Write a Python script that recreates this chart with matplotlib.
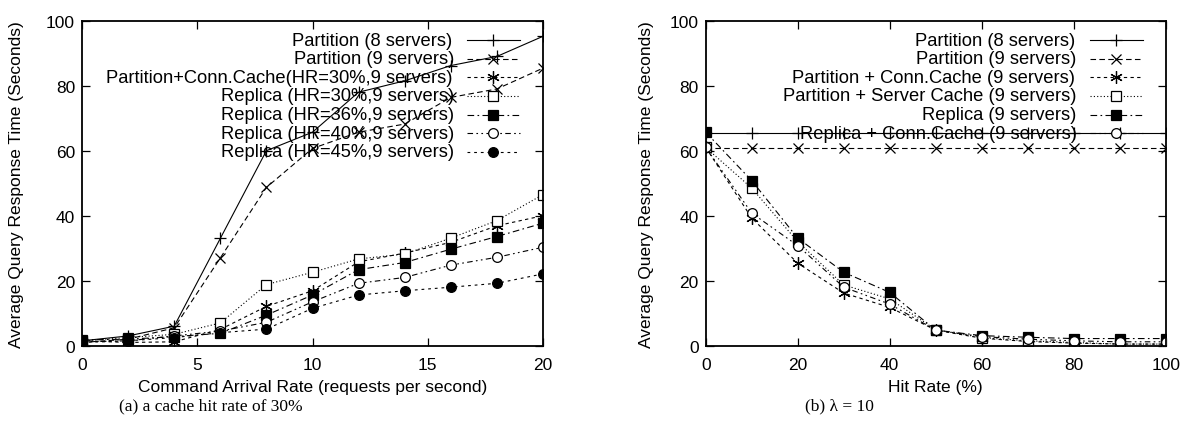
import matplotlib
matplotlib.use("Agg")
import matplotlib.pyplot as plt

plt.rcParams['font.family'] = ['Liberation Sans', 'DejaVu Sans']

# ---- data: left panel (a) ----
rate = [0, 2, 4, 6, 8, 10, 12, 14, 16, 18, 20]
a_part8 = [1.5, 3, 6, 33, 60, 65.7, 78, 81.5, 86.2, 89, 95.2]
a_part9 = [1, 2, 5.5, 27, 48.7, 60.7, 65.7, 68.2, 76.4, 79, 85.4]
a_conn30 = [1.5, 1, 1.2, 5, 12.1, 16.9, 25.8, 28.5, 31.8, 36.9, 40]
a_rep30 = [1.5, 2.5, 3.5, 7, 18.8, 22.6, 26.7, 28.2, 33.1, 38.5, 46.5]
a_rep36 = [1.8, 2, 2.8, 3.8, 9.4, 15.6, 23.4, 25.6, 29.7, 33.6, 37.7]
a_rep40 = [1.2, 1.5, 3, 4.5, 7.2, 13.5, 19.2, 21, 24.8, 27.2, 30.3]
a_rep45 = [1, 1.5, 2.5, 4, 5.1, 11.5, 15.6, 16.9, 18, 19.2, 22.1]
a_labels = ["Partition (8 servers)", "Partition (9 servers)",
            "Partition+Conn.Cache(HR=30%,9 servers)",
            "Replica (HR=30%,9 servers)", "Replica (HR=36%,9 servers)",
            "Replica (HR=40%,9 servers)", "Replica (HR=45%,9 servers)"]

# ---- data: right panel (b) ----
hit = [0, 10, 20, 30, 40, 50, 60, 70, 80, 90, 100]
b_part8 = [65.5] * 11
b_part9 = [60.8] * 11
b_conn = [61, 39.3, 25.4, 16.2, 11.8, 4.8, 2.3, 1.3, 0.8, 0.5, 0.5]
b_server = [61, 48.5, 32, 18.7, 14.4, 4.9, 2.5, 1.5, 1.0, 0.5, 0.5]
b_rep = [65.7, 50.8, 33.1, 22.6, 16.4, 4.8, 3.1, 2.6, 2.2, 2.2, 2.2]
b_repconn = [61, 40.8, 30.8, 18, 12.8, 4.8, 2.8, 2.0, 1.5, 1.2, 1.2]
b_labels = ["Partition (8 servers)", "Partition (9 servers)",
            "Partition + Conn.Cache (9 servers)",
            "Partition + Server Cache (9 servers)",
            "Replica (9 servers)", "Replica + Conn.Cache (9 servers)"]

K = 'black'
LW = 0.8
styles = {
    'p8': dict(ls='-', marker='+', ms=9, mew=0.9),
    'p9': dict(ls=(0, (5, 3)), marker='x', ms=7, mew=0.9),
    'conn': dict(ls=(0, (3, 3)), marker=(6, 2, 0), ms=9, mew=0.9),
    'sq': dict(ls=(0, (1, 2)), marker='s', ms=7, mfc='white', mew=0.9),
    'fsq': dict(ls=(0, (6, 3, 1.5, 3)), marker='s', ms=7, mfc=K, mew=0.9),
    'oc': dict(ls=(0, (5, 3, 1.5, 3, 1.5, 3)), marker='o', ms=7, mfc='white', mew=0.9),
    'fc': dict(ls=(0, (2.5, 3.5)), marker='o', ms=7, mfc=K, mew=0.9),
}
FS = 12.5
LFS = 13.2
SERIF = ['Liberation Serif', 'DejaVu Serif']

fig = plt.figure(figsize=(11.85, 4.31), dpi=100)
axA = fig.add_axes([82 / 1185, 1 - 346.7 / 431, 461 / 1185, 325 / 431])
axB = fig.add_axes([705.7 / 1185, 1 - 346.7 / 431, 460 / 1185, 325 / 431])


def style_axes(ax, xmax, xticks, ylabelpad):
    ax.set_xlim(0, xmax)
    ax.set_ylim(0, 100)
    ax.set_xticks(xticks)
    ax.set_yticks([0, 20, 40, 60, 80, 100])
    ax.tick_params(direction='in', length=6, width=0.9, top=True, right=True,
                   labelsize=FS)
    ax.tick_params(axis='x', pad=8)
    ax.tick_params(axis='y', pad=5)
    for s in ax.spines.values():
        s.set_linewidth(1.3)
    ax.set_ylabel("Average Query Response Time (Seconds)", fontsize=FS, labelpad=ylabelpad)


def gnuplot_legend(ax, lines, labels, right_px, top_px):
    # handles only; labels drawn right-aligned to the left of each handle
    leg = ax.legend(lines, [''] * len(lines), loc='upper right',
                    bbox_to_anchor=(1.0 - right_px / ax.bbox.width, 1.0 - top_px / ax.bbox.height),
                    frameon=False, fontsize=LFS, handlelength=2.9,
                    handletextpad=0.0, labelspacing=0.085, borderpad=0, borderaxespad=0)
    fig.canvas.draw()
    inv = fig.transFigure.inverted()
    for h, lab in zip(leg.legend_handles, labels):
        bb = h.get_window_extent(fig.canvas.get_renderer())
        x, y = inv.transform((bb.x0 - 8, (bb.y0 + bb.y1) / 2))
        fig.text(x, y, lab, ha='right', va='center', fontsize=LFS)
    return leg


# panel (a)
series_a = [a_part8, a_part9, a_conn30, a_rep30, a_rep36, a_rep40, a_rep45]
keys_a = ['p8', 'p9', 'conn', 'sq', 'fsq', 'oc', 'fc']
lines_a = []
for ys, k, lab in zip(series_a, keys_a, a_labels):
    ln, = axA.plot(rate, ys, color=K, lw=LW, label=lab, **styles[k])
    lines_a.append(ln)
style_axes(axA, 20, [0, 5, 10, 15, 20], 16)
axA.set_xlabel("Command Arrival Rate (requests per second)", fontsize=FS, labelpad=5)

# panel (b)
series_b = [b_part8, b_part9, b_conn, b_server, b_rep, b_repconn]
keys_b = ['p8', 'p9', 'conn', 'sq', 'fsq', 'oc']
lines_b = []
for ys, k, lab in zip(series_b, keys_b, b_labels):
    ln, = axB.plot(hit, ys, color=K, lw=LW, label=lab, **styles[k])
    lines_b.append(ln)
style_axes(axB, 100, [0, 20, 40, 60, 80, 100], 11.5)
axB.set_xlabel("Hit Rate (%)", fontsize=FS, labelpad=5)

gnuplot_legend(axA, lines_a, a_labels, 23, 13)
gnuplot_legend(axB, lines_b, b_labels, 23, 13)

fig.text(211 / 1185, 1 - 406 / 431, "(a) a cache hit rate of 30%",
         ha='center', va='center', fontsize=FS, family=SERIF)
fig.text(839 / 1185, 1 - 406 / 431, "(b) λ = 10",
         ha='center', va='center', fontsize=FS, family=SERIF)

fig.savefig("out.png", dpi=100)
